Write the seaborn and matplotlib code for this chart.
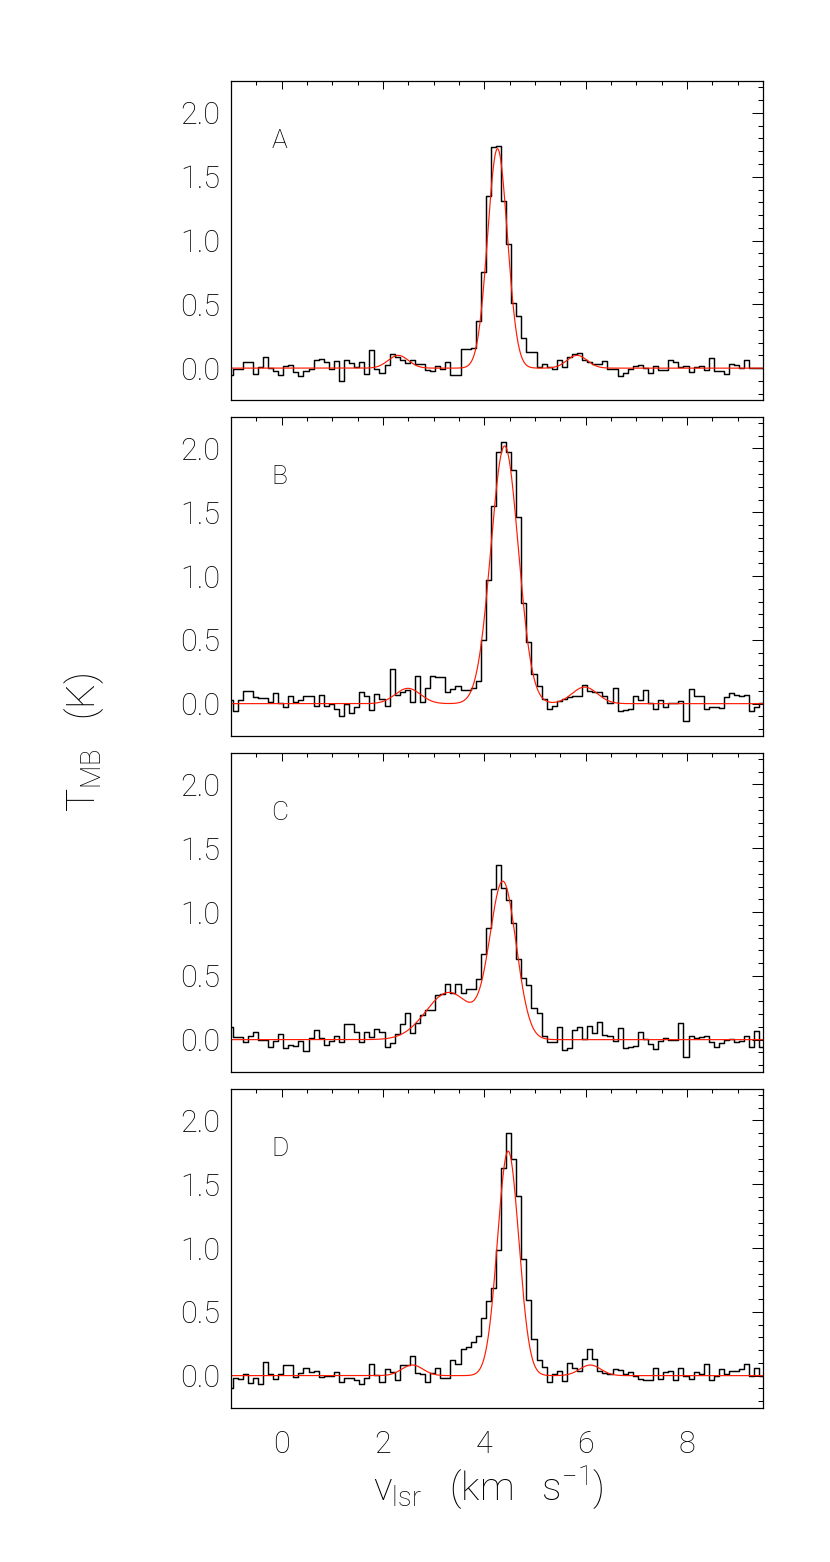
import numpy as np
import pandas as pd
import matplotlib
matplotlib.use("Agg")
import matplotlib.pyplot as plt
from matplotlib.ticker import MultipleLocator, FormatStrFormatter
import seaborn as sns

# ---------------- data ----------------
PANELS = ["A", "B", "C", "D"]

# channel grid of the spectra (km/s)
CHAN0 = -1.02
DV = 0.1

TA_A = [
    -0.05, -0.01, -0.01, 0.05, 0.05, -0.045, 0.01, 0.09, 0.0, -0.02,
    -0.05, 0.02, 0.025, -0.03, -0.065, -0.02, -0.01, 0.065, 0.07, 0.045,
    -0.01, 0.057, -0.10, 0.06, 0.04, 0.01, 0.05, -0.045, 0.14, -0.01,
    -0.04, 0.025, 0.11, 0.09, 0.06, 0.04, 0.06, 0.035, 0.03, -0.015,
    -0.025, 0.015, -0.005, 0.045, -0.05, -0.05, 0.15, 0.15, 0.16, 0.37,
    0.75, 1.35, 1.73, 1.74,
    1.31, 0.97, 0.51, 0.41, 0.24, 0.13, 0.125, 0.005, 0.03, 0.005,
    -0.01, 0.06, 0.01, 0.09, 0.11, 0.12, 0.065, 0.05, 0.03, 0.03,
    0.055, -0.01, -0.005, -0.06, -0.035, -0.01, 0.02, 0.025, 0.0, -0.04,
    0.015, -0.015, -0.015, 0.06, 0.045, 0.005, 0.015, -0.03, 0.01, 0.015,
    -0.015, 0.08, -0.025, -0.025, -0.045, 0.035, 0.025, 0.0, 0.06, 0.0,
    0.0, 0.0, -0.045,
]
TA_B = [
    0.03, -0.055, 0.025, 0.10, 0.10, 0.055, 0.045, 0.045, 0.01, 0.08,
    0.005, -0.03, 0.06, 0.01, 0.025, 0.057, 0.057, -0.015, 0.065, -0.02,
    -0.005, -0.045, -0.095, 0.0, -0.07, -0.03, 0.095, 0.06, -0.05, 0.075,
    0.035, -0.02, 0.27, 0.07, 0.09, 0.11, 0.01, 0.22, 0.01, 0.12,
    0.22, 0.21, 0.21, 0.095, 0.115, 0.135, 0.11, 0.11, 0.12, 0.175,
    0.50, 0.97, 1.55, 1.97, 2.05,
    1.97, 1.83, 1.46, 0.79, 0.48, 0.23, 0.135, 0.035, -0.04, -0.015,
    0.02, 0.04, 0.05, 0.06, 0.06, 0.15, 0.10, 0.094, 0.094, 0.057,
    0.005, 0.12, -0.06, -0.047, -0.042, 0.057, 0.026, 0.11, 0.005, -0.042,
    0.03, -0.03, 0.005, 0.005, 0.023, -0.138, 0.115, 0.063, 0.057, -0.04,
    -0.03, -0.03, -0.034, 0.052, 0.083, 0.07, 0.063, 0.065, -0.06, -0.03,
    0.005, -0.008,
]
TA_C = [
    0.10,
    0.023, 0.023, -0.016, 0.026, 0.063, 0.0, 0.0, -0.06, -0.008, 0.044,
    -0.068, -0.04, -0.047, -0.008, -0.086, 0.016, 0.076, 0.013, -0.04, -0.008,
    0.026, -0.02, 0.12, 0.12, 0.057, -0.016, 0.063, 0.018, 0.083, 0.057,
    -0.055, -0.03, 0.044, 0.122, 0.206, 0.052, 0.128, 0.193, 0.23, 0.23,
    0.349, 0.357, 0.435, 0.365, 0.435, 0.362, 0.396, 0.396, 0.479, 0.669,
    0.878, 1.18, 1.365, 1.19,
    1.094, 0.917, 0.635, 0.482, 0.427, 0.245, 0.206, 0.031, -0.016, -0.016,
    0.096, -0.078, -0.068, 0.078, 0.096, 0.005, 0.104, 0.052, 0.135, 0.036,
    0.026, -0.008, 0.091, -0.065, -0.06, -0.047, 0.063, 0.005, -0.034, -0.073,
    -0.013, 0.01, -0.003, -0.003, 0.13, -0.133, 0.031, 0.01, 0.023, 0.031,
    -0.02, -0.06, -0.028, 0.0, 0.005, -0.02, -0.008, 0.026, -0.055, 0.07,
    -0.06, 0.026,
]
TA_D = [
    -0.10, -0.016, -0.023, 0.016, -0.055, -0.021, -0.068, 0.109, 0.01, -0.023,
    0.01, 0.086, 0.081, -0.01, 0.018, 0.057, 0.029, 0.036, -0.008, -0.003,
    0.0, 0.031, -0.05, -0.016, -0.021, -0.034, -0.068, -0.016, 0.091, 0.003,
    -0.05, 0.049, 0.031, -0.036, 0.081, 0.081, 0.154, 0.023, 0.016, -0.052,
    0.018, 0.057, -0.016, -0.016, 0.125, 0.094, 0.206, 0.227, 0.263, 0.31,
    0.453, 0.583, 0.688, 0.982, 1.625,
    1.898, 1.70, 1.41, 0.914, 0.589, 0.284, 0.12, 0.07, -0.05, 0.016,
    0.036, -0.042, 0.096, 0.063, 0.036, 0.127, 0.211, 0.127, 0.036, 0.018,
    0.01, 0.055, 0.044, 0.01, 0.026, -0.005, -0.029, -0.034, -0.034, 0.063,
    -0.023, 0.031, 0.036, -0.036, 0.063, -0.003, -0.029, 0.029, 0.016, 0.089,
    -0.034, -0.003, 0.055, 0.01, 0.036, 0.036, 0.049, 0.094, 0.0, 0.063,
    0.0, 0.042,
]

# Gaussian components of the red fits: amplitude (K), centre (km/s), sigma (km/s)
FIT_AMP_A = [1.72, 0.10, 0.10]
FIT_CEN_A = [4.26, 2.30, 5.83]
FIT_SIG_A = [0.195, 0.20, 0.20]
FIT_AMP_B = [2.02, 0.12, 0.13]
FIT_CEN_B = [4.40, 2.49, 5.98]
FIT_SIG_B = [0.27, 0.25, 0.25]
FIT_AMP_C = [1.22, 0.37]
FIT_CEN_C = [4.37, 3.30]
FIT_SIG_C = [0.26, 0.45]
FIT_AMP_D = [1.76, 0.083, 0.083]
FIT_CEN_D = [4.47, 2.58, 6.09]
FIT_SIG_D = [0.21, 0.21, 0.21]

X_TICKS = [0, 2, 4, 6, 8]
Y_TICKS = [0.0, 0.5, 1.0, 1.5, 2.0]
XLIM = (-1.0, 9.5)
YLIM = (-0.25, 2.25)

SPECTRA = {"A": TA_A, "B": TA_B, "C": TA_C, "D": TA_D}
FITS = {
    "A": (FIT_AMP_A, FIT_CEN_A, FIT_SIG_A),
    "B": (FIT_AMP_B, FIT_CEN_B, FIT_SIG_B),
    "C": (FIT_AMP_C, FIT_CEN_C, FIT_SIG_C),
    "D": (FIT_AMP_D, FIT_CEN_D, FIT_SIG_D),
}

# ---------------- style ----------------
sns.set_theme(style="white")
plt.rcParams["font.family"] = ["Roboto", "Lato", "DejaVu Sans"]
plt.rcParams["font.weight"] = "light"
plt.rcParams["mathtext.fontset"] = "custom"
plt.rcParams["mathtext.rm"] = "Roboto:light"
plt.rcParams["mathtext.it"] = "Roboto:light"
plt.rcParams["axes.linewidth"] = 0.9
plt.rcParams["axes.edgecolor"] = "black"

TEXT_COLOR = "#000000"
FONT_TICK = 22
FONT_LETTER = 19
FONT_LABEL = 28

fig = plt.figure(figsize=(8.3, 15.62), dpi=100)

left, width, height = 0.2783, 0.641, 0.2042
bottoms = [0.7439, 0.5291, 0.3140, 0.0989]

fine_v = np.linspace(XLIM[0], XLIM[1], 1500)

for i, (name, bottom) in enumerate(zip(PANELS, bottoms)):
    ax = fig.add_axes([left, bottom, width, height])
    ta = np.asarray(SPECTRA[name])
    vel = CHAN0 + DV * np.arange(len(ta))
    df = pd.DataFrame({"v": vel, "T": ta})
    sns.lineplot(data=df, x="v", y="T", ax=ax, color="black", lw=1.05,
                 drawstyle="steps-mid", estimator=None, errorbar=None, sort=True)

    amps, cens, sigs = FITS[name]
    model = np.zeros_like(fine_v)
    for a, c, s in zip(amps, cens, sigs):
        model += a * np.exp(-0.5 * ((fine_v - c) / s) ** 2)
    dfit = pd.DataFrame({"v": fine_v, "T": model})
    sns.lineplot(data=dfit, x="v", y="T", ax=ax, color="#ff1a00", lw=0.85,
                 estimator=None, errorbar=None)

    ax.set_xlim(*XLIM)
    ax.set_ylim(*YLIM)
    ax.set_xticks(X_TICKS)
    ax.set_yticks(Y_TICKS)
    ax.xaxis.set_minor_locator(MultipleLocator(0.5))
    ax.yaxis.set_minor_locator(MultipleLocator(0.1))
    ax.yaxis.set_major_formatter(FormatStrFormatter("%.1f"))
    ax.set_xlabel("")
    ax.set_ylabel("")
    ax.tick_params(axis="both", which="both", direction="in", top=True,
                   right=True, width=0.75, color="black",
                   labelsize=FONT_TICK, labelcolor=TEXT_COLOR)
    ax.tick_params(axis="y", which="major", length=7.7, pad=8)
    ax.tick_params(axis="y", which="minor", length=3.8)
    ax.tick_params(axis="x", which="major", length=5.5, pad=16)
    ax.tick_params(axis="x", which="minor", length=2.8)
    if i < len(PANELS) - 1:
        ax.tick_params(axis="x", labelbottom=False)
    for sp in ax.spines.values():
        sp.set_linewidth(0.9)
        sp.set_color("black")

    ax.text(-0.04, 1.78, name, ha="center", va="center",
            fontsize=FONT_LETTER, color=TEXT_COLOR)

fig.text(0.101, 0.525, r"T$_{\mathrm{MB}}$   (K)", rotation=90,
         ha="center", va="center", fontsize=FONT_LABEL, color=TEXT_COLOR)
fig.text(0.589, 0.047, r"v$_{\mathrm{lsr}}$   (km   s$^{-1}$)",
         ha="center", va="center", fontsize=FONT_LABEL, color=TEXT_COLOR)

fig.savefig("out.png", dpi=100)
